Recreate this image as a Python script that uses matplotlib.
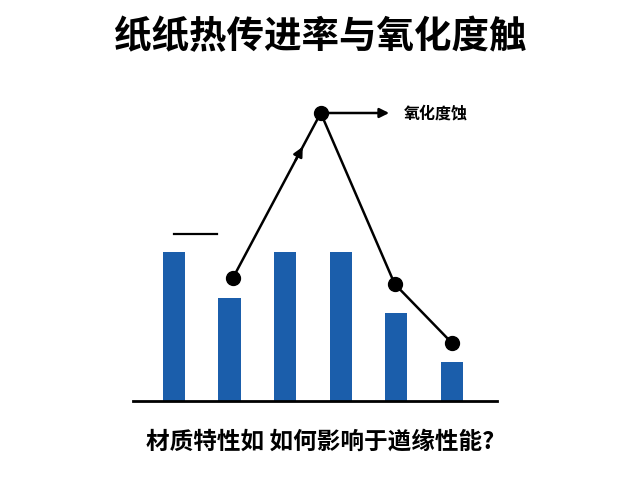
import matplotlib
matplotlib.use("Agg")
import matplotlib.pyplot as plt
import numpy as np

plt.rcParams['font.family'] = ['Noto Sans CJK SC', 'DejaVu Sans']

# bar values (arbitrary units)
bar_values = [7.45, 5.15, 7.45, 7.45, 4.4, 1.95]

# oxidation/corrosion line
line_x = [1.06, 2.64, 3.97, 5.0]
line_y = [6.15, 14.4, 5.85, 2.9]

title = "纸纸热传进率与氧化度触"
subtitle = "材质特性如 如何影响于遒缘性能?"
line_label = "氧化度蚀"

fig = plt.figure(figsize=(6.4, 4.8), dpi=100)
ax = fig.add_axes([133 / 640, 79 / 480, 364 / 640, 341 / 480])

x = np.arange(len(bar_values))
ax.bar(x, bar_values, width=0.4, color="#1b5eab")

# line with dots
ax.plot(line_x, line_y, color="black", lw=1.8, zorder=3)
ax.plot(line_x, line_y, "o", color="black", ms=10, zorder=4)

# arrowhead on the rising segment
t = 0.81
ax_x = line_x[0] + t * (line_x[1] - line_x[0])
ax_y = line_y[0] + t * (line_y[1] - line_y[0])
ax.annotate("", xy=(ax_x, ax_y),
            xytext=(line_x[0] + 0.7 * (line_x[1] - line_x[0]),
                    line_y[0] + 0.7 * (line_y[1] - line_y[0])),
            arrowprops=dict(arrowstyle="-|>", color="black", lw=1.8,
                            mutation_scale=14), zorder=3)

# arrow from the peak to the label
ax.annotate("", xy=(3.87, line_y[1]), xytext=(line_x[1], line_y[1]),
            arrowprops=dict(arrowstyle="-|>", color="black", lw=1.8,
                            mutation_scale=14, shrinkA=0, shrinkB=0))
ax.text(4.13, line_y[1], line_label, fontsize=11.5, fontweight="heavy",
        va="center", ha="left")

# short horizontal mark above first bar
ax.plot([0.0, 0.77], [8.35, 8.35], color="black", lw=1.6)

ax.set_xlim(-0.737, 5.81)
ax.set_ylim(0, 17.05)
for side in ["top", "right", "left"]:
    ax.spines[side].set_visible(False)
ax.spines["bottom"].set_linewidth(2)
ax.set_xticks([])
ax.set_yticks([])

fig.text(0.5, 1 - 37 / 480, title, fontsize=27, fontweight="heavy",
         ha="center", va="center")
fig.text(0.5, 1 - 442 / 480, subtitle, fontsize=17, fontweight="heavy",
         ha="center", va="center")

fig.savefig("out.png", dpi=100)
